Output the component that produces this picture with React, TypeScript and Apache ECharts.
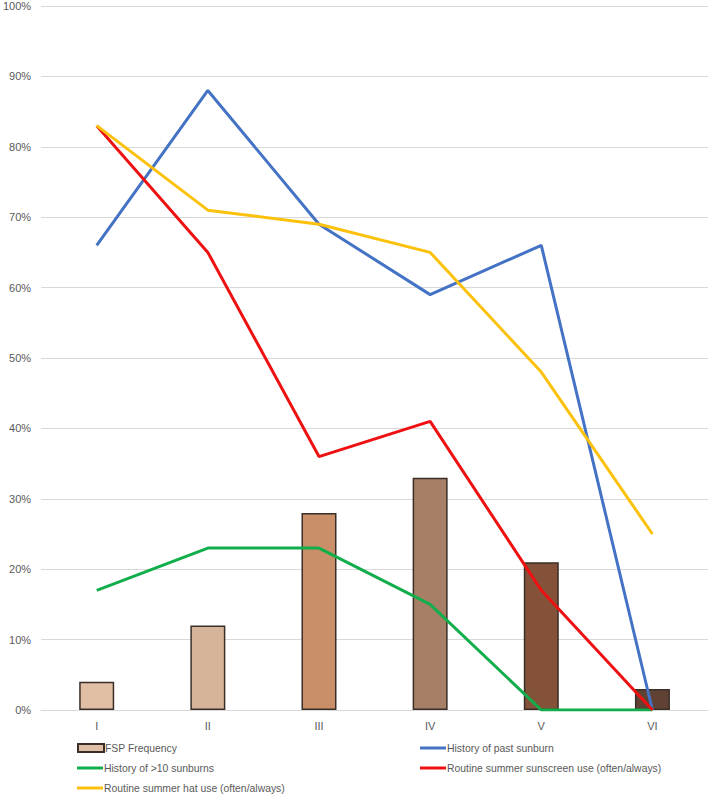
import React, { useEffect, useRef } from "react";
import * as echarts from "echarts";

const categories = ["I", "II", "III", "IV", "V", "VI"];
const fspFrequency = [4, 12, 28, 33, 21, 3];
const barColors = ["#e0bfa4", "#d6b499", "#c98f68", "#a77f67", "#845238", "#5f4234"];
const pastSunburn = [66, 88, 69, 59, 66, 0];
const over10Sunburns = [17, 23, 23, 15, 0, 0];
const sunscreenUse = [83, 65, 36, 41, 17, 0];
const hatUse = [83, 71, 69, 65, 48, 25];
const yTicks = [0, 10, 20, 30, 40, 50, 60, 70, 80, 90, 100];

const names = [
  "FSP Frequency",
  "History of past sunburn",
  "History of >10 sunburns",
  "Routine summer sunscreen use (often/always)",
  "Routine summer hat use (often/always)",
];
const lineColors = ["#4472c4", "#12ae4b", "#ee1111", "#fcc10c"];

export default function App() {
  const ref = useRef<HTMLDivElement>(null);
  useEffect(() => {
    const chart = echarts.init(ref.current!, null, { renderer: "svg" });
    const font = "Liberation Sans";
    const txt = { color: "#595959", fontSize: 11, fontFamily: font };
    const legendPos = [
      { left: 77, top: 743 },
      { left: 420, top: 743 },
      { left: 77, top: 763 },
      { left: 420, top: 763 },
      { left: 77, top: 783 },
    ];
    const lineData = [pastSunburn, over10Sunburns, sunscreenUse, hatUse];
    chart.setOption({
      animation: false,
      grid: { left: 36, right: 1, top: 6, bottom: 86, containLabel: false },
      xAxis: {
        type: "category",
        data: categories,
        axisLine: { lineStyle: { color: "#d9d9d9", width: 1 } },
        axisTick: { show: false },
        axisLabel: { ...txt, margin: 10 },
      },
      yAxis: {
        type: "value",
        min: 0,
        max: 100,
        interval: 10,
        axisLine: { show: false },
        axisTick: { show: false },
        splitLine: { lineStyle: { color: "#d9d9d9", width: 1 } },
        axisLabel: {
          ...txt,
          margin: 10,
          formatter: (v: number) => (yTicks.includes(v) ? v + "%" : ""),
        },
      },
      legend: legendPos.map((p, i) => ({
        left: p.left,
        top: p.top,
        itemWidth: 26,
        itemHeight: i === 0 ? 8 : 3,
        itemGap: 0,
        padding: 0,
        textStyle: { ...txt, fontSize: 10.4, padding: [0, 0, 0, -4] },
        data: [{ name: names[i], icon: "rect" }],
      })),
      series: [
        {
          name: names[0],
          type: "bar",
          barWidth: 35,
          z: 1,
          itemStyle: { color: barColors[0], borderColor: "#3a2e28", borderWidth: 1.5 },
          data: fspFrequency.map((v, i) => ({
            value: v,
            itemStyle: { color: barColors[i], borderColor: "#3a2e28", borderWidth: 1.5 },
          })),
        },
        ...lineData.map((d, i) => ({
          name: names[i + 1],
          type: "line",
          data: d,
          symbol: "none",
          z: 3,
          color: lineColors[i],
          lineStyle: { color: lineColors[i], width: 3 },
          itemStyle: { color: lineColors[i] },
        })),
      ],
    });
    return () => chart.dispose();
  }, []);
  return <div ref={ref} style={{ width: 709, height: 796, position: "absolute", left: 0, top: 0 }} />;
}
